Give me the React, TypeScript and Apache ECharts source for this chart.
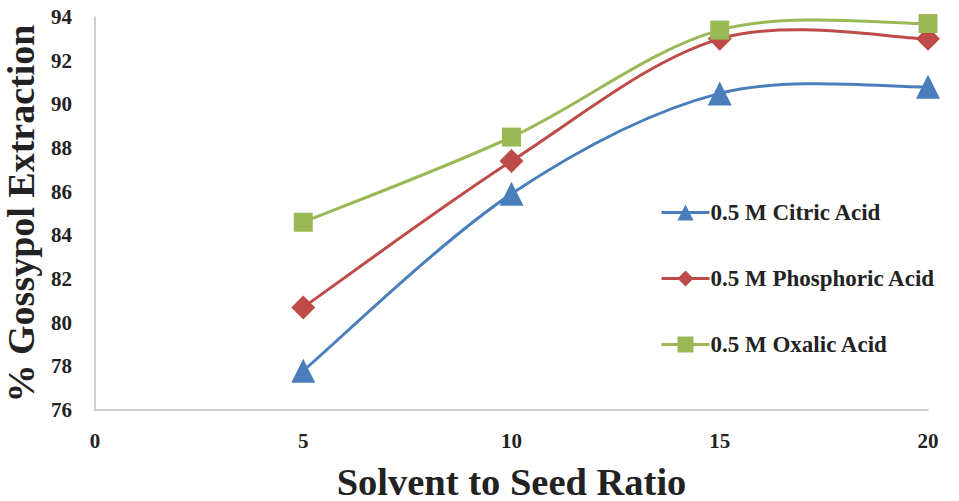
import React, { useEffect, useRef } from "react";
import * as echarts from "echarts";

const xValues = [5, 10, 15, 20];
const seriesNames = ["0.5 M Citric Acid", "0.5 M Phosphoric Acid", "0.5 M Oxalic Acid"];
const citric = [77.8, 85.9, 90.5, 90.8];
const phosphoric = [80.7, 87.4, 93.0, 93.0];
const oxalic = [84.6, 88.5, 93.4, 93.7];
const colors = ["#4A7EBB", "#BE4B48", "#98B954"];
const symbols = ["triangle", "diamond", "rect"];
const symbolSizes = [24, 24, 19];

const FONT = "'Liberation Serif', 'Times New Roman', serif";

export default function App() {
  const ref = useRef<HTMLDivElement>(null);
  useEffect(() => {
    if (!ref.current) return;
    const chart = echarts.init(ref.current, undefined, { renderer: "svg" });
    const datasets = [citric, phosphoric, oxalic];

    const curveSeries = datasets.map((vals, i) => ({
      type: "custom",
      name: "curve" + i,
      silent: true,
      z: 1,
      data: xValues.map((x, j) => [x, vals[j]]),
      renderItem: (params: any, api: any) => {
        if (params.dataIndex !== 0) return null;
        const pts = xValues.map((x, j) => api.coord([x, vals[j]]));
        const n = pts.length;
        let d = `M${pts[0][0]},${pts[0][1]}`;
        for (let k = 0; k < n - 1; k++) {
          const p0 = pts[Math.max(0, k - 1)];
          const p1 = pts[k];
          const p2 = pts[k + 1];
          const p3 = pts[Math.min(n - 1, k + 2)];
          const c1x = p1[0] + (p2[0] - p0[0]) / 6;
          const c1y = p1[1] + (p2[1] - p0[1]) / 6;
          const c2x = p2[0] - (p3[0] - p1[0]) / 6;
          const c2y = p2[1] - (p3[1] - p1[1]) / 6;
          d += ` C${c1x},${c1y} ${c2x},${c2y} ${p2[0]},${p2[1]}`;
        }
        return {
          type: "path",
          shape: { pathData: d },
          style: { stroke: colors[i], lineWidth: 3, fill: "none" },
        };
      },
    }));

    chart.setOption({
      animation: false,
      backgroundColor: "#ffffff",
      grid: { left: 95, right: 31, top: 17, bottom: 91, containLabel: false, outerBoundsMode: "none" },
      legend: {
        orient: "vertical",
        left: 655,
        top: 196,
        itemWidth: 48,
        itemHeight: 20,
        itemGap: 43,
        data: seriesNames.map((n, i) => ({
          name: n,
          lineStyle: { color: colors[i], width: 3, opacity: 1 },
          itemStyle: { color: colors[i] },
        })),
        textStyle: { fontFamily: FONT, fontWeight: "bold", fontSize: 23, color: "#222", padding: [0, 0, 0, -4] },
      },
      xAxis: {
        type: "value",
        min: 0,
        max: 20,
        interval: 5,
        name: "Solvent to Seed Ratio",
        nameLocation: "middle",
        nameGap: 52,
        nameTextStyle: { fontFamily: FONT, fontWeight: "bold", fontSize: 38.5, color: "#222" },
        axisLine: { show: true, lineStyle: { color: "#BFBFBF", width: 1.5 } },
        axisTick: { show: false },
        splitLine: { show: false },
        axisLabel: { fontFamily: FONT, fontWeight: "bold", fontSize: 21, color: "#222", margin: 20 },
      },
      yAxis: {
        type: "value",
        min: 76,
        max: 94,
        interval: 2,
        name: "% Gossypol Extraction",
        nameLocation: "middle",
        nameGap: 52,
        nameRotate: 90,
        nameTextStyle: { fontFamily: FONT, fontWeight: "bold", fontSize: 38, color: "#222" },
        axisLine: { show: true, lineStyle: { color: "#BFBFBF", width: 1.5 } },
        axisTick: { show: false },
        splitLine: { show: false },
        axisLabel: { fontFamily: FONT, fontWeight: "bold", fontSize: 21, color: "#222", margin: 23 },
      },
      series: [
        ...curveSeries,
        ...seriesNames.map((name, i) => ({
          name,
          type: "line",
          z: 3,
          symbol: symbols[i],
          symbolSize: symbolSizes[i],
          lineStyle: { color: colors[i], width: 3, opacity: 0 },
          itemStyle: { color: colors[i] },
          data: xValues.map((x, j) => [x, datasets[i][j]]),
        })),
      ],
    });
    return () => chart.dispose();
  }, []);
  return <div ref={ref} style={{ width: 959, height: 501, position: "absolute", left: 0, top: 0 }} />;
}
